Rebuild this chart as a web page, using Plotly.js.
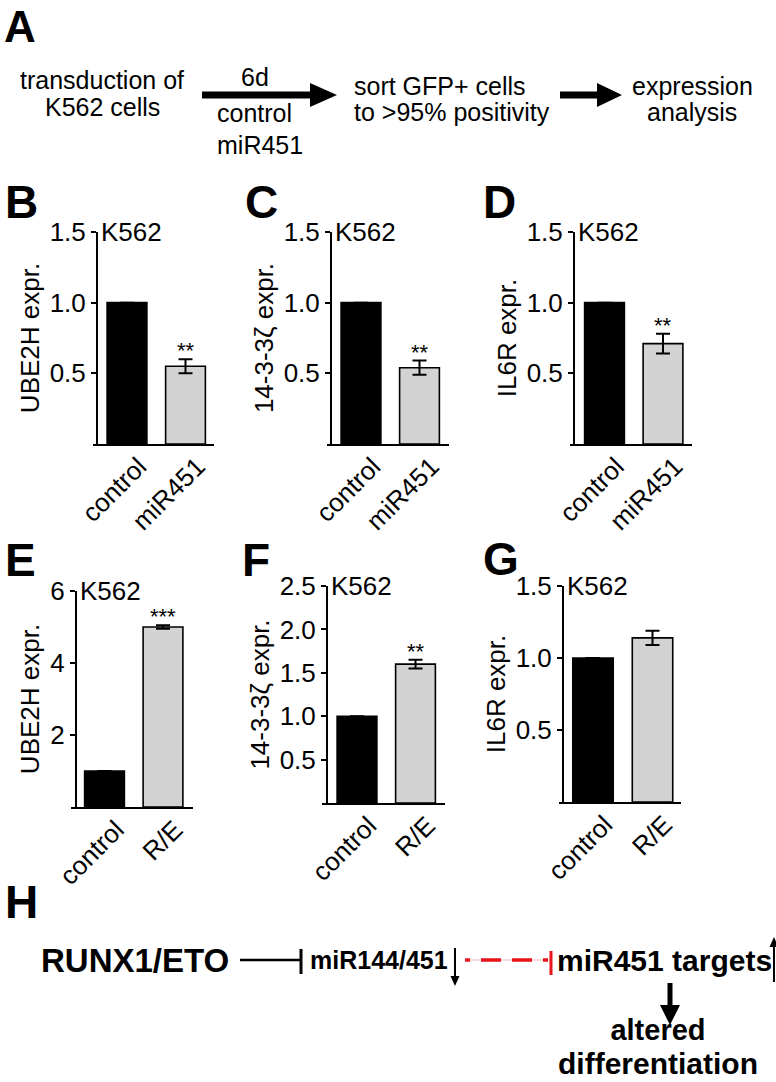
<!DOCTYPE html>
<html>
<head>
<meta charset="utf-8">
<script src="https://cdn.plot.ly/plotly-3.0.1.min.js"></script>
<style>html,body{margin:0;padding:0;background:#fff;}#chart{width:776px;height:1082px;}</style>
</head>
<body>
<div id="chart"></div>
<script>
// ---------- data ----------
const catsMiR = ['control', 'miR451'];
const catsRE = ['control', 'R/E'];
const ube2hMiR = [1.0, 0.55];
const ube2hMiRErr = [0, 0.05];
const ywhazMiR = [1.0, 0.54];
const ywhazMiRErr = [0, 0.05];
const il6rMiR = [1.0, 0.71];
const il6rMiRErr = [0, 0.07];
const ube2hRE = [1.0, 5.0];
const ube2hREErr = [0, 0.05];
const ywhazRE = [1.0, 1.6];
const ywhazREErr = [0, 0.05];
const il6rRE = [1.0, 1.14];
const il6rREErr = [0, 0.05];
const sigUbe2hMiR = ['', '**'];
const sigYwhazMiR = ['', '**'];
const sigIl6rMiR = ['', '**'];
const sigUbe2hRE = ['', '***'];
const sigYwhazRE = ['', '**'];
const sigIl6rRE = ['', ''];
const ticksMiR = [0.5, 1.0, 1.5];
const ticksUbe2hRE = [2, 4, 6];
const ticksYwhazRE = [0.5, 1.0, 1.5, 2.0, 2.5];
const ticksIl6rRE = [0.5, 1.0, 1.5];
const barColors = ['#000000', '#d3d3d3'];

// ---------- layout helpers ----------
const W = 776, H = 1082;
const X = p => p / W;
const Y = p => 1 - p / H;
const FONT = 'Liberation Sans, Arial, Helvetica, sans-serif';
const FS = 26;

const panels = [
  {ax: 97,  x0: 93,  x1: 214, c0: 127,   c1: 185.5, yb: 444, yt: 232, ymax: 1.5, ticks: ticksMiR, fmt: '.1f', cats: catsMiR, vals: ube2hMiR, err: ube2hMiRErr, sig: sigUbe2hMiR, title: 'UBE2H expr.'},
  {ax: 331, x0: 327, x1: 449, c0: 361,   c1: 419.5, yb: 444, yt: 232, ymax: 1.5, ticks: ticksMiR, fmt: '.1f', cats: catsMiR, vals: ywhazMiR, err: ywhazMiRErr, sig: sigYwhazMiR, title: '14-3-3ζ expr.'},
  {ax: 574, x0: 570, x1: 692, c0: 604.5, c1: 663,   yb: 444, yt: 232, ymax: 1.5, ticks: ticksMiR, fmt: '.1f', cats: catsMiR, vals: il6rMiR, err: il6rMiRErr, sig: sigIl6rMiR, title: 'IL6R expr.'},
  {ax: 76,  x0: 71,  x1: 193, c0: 104.5, c1: 163,   yb: 807, yt: 591, ymax: 6,   ticks: ticksUbe2hRE, fmt: 'd', cats: catsRE, vals: ube2hRE, err: ube2hREErr, sig: sigUbe2hRE, title: 'UBE2H expr.'},
  {ax: 327, x0: 322, x1: 445, c0: 357,   c1: 415.5, yb: 803, yt: 586, ymax: 2.5, ticks: ticksYwhazRE, fmt: '.1f', cats: catsRE, vals: ywhazRE, err: ywhazREErr, sig: sigYwhazRE, title: '14-3-3ζ expr.'},
  {ax: 563, x0: 559, x1: 681, c0: 593,   c1: 652.5, yb: 802, yt: 586, ymax: 1.5, ticks: ticksIl6rRE, fmt: '.1f', cats: catsRE, vals: il6rRE, err: il6rREErr, sig: sigIl6rRE, title: 'IL6R expr.'}
];

const data = [];
const layout = {
  width: W, height: H,
  margin: {l: 0, r: 0, t: 0, b: 0},
  paper_bgcolor: '#ffffff',
  plot_bgcolor: 'rgba(0,0,0,0)',
  showlegend: false,
  font: {family: FONT, color: '#000', size: FS},
  annotations: [],
  shapes: []
};

panels.forEach((p, i) => {
  const n = i + 1;
  const xa = 'x' + n, ya = 'y' + n;
  const xk = 'xaxis' + n, yk = 'yaxis' + n;
  const slope = p.c1 - p.c0;
  data.push({
    type: 'bar', x: p.cats, y: p.vals, xaxis: xa, yaxis: ya,
    width: 0.68,
    marker: {color: barColors, line: {color: '#000', width: 1.6}},
    error_y: {type: 'data', array: p.err, visible: true, color: '#000', thickness: 2, width: 7},
    hoverinfo: 'none'
  });
  layout[xk] = {
    domain: [X(p.x0), X(p.x1)],
    range: [(p.x0 - p.c0) / slope, (p.x1 - p.c0) / slope],
    anchor: ya,
    type: 'category',
    showline: true, linewidth: 2, linecolor: '#000',
    ticks: '', showgrid: false, zeroline: false,
    tickangle: -45,
    ticklabelshift: 12,
    ticklabelstandoff: -5,
    tickfont: {size: FS, family: FONT, color: '#000'},
    automargin: false
  };
  layout[yk] = {
    domain: [Y(p.yb), Y(p.yt)],
    range: [0, p.ymax],
    anchor: 'free', position: X(p.ax),
    showline: true, linewidth: 2, linecolor: '#000',
    ticks: 'outside', ticklen: 5, tickwidth: 2, tickcolor: '#000',
    tickvals: p.ticks, tickformat: p.fmt,
    showgrid: false, zeroline: false,
    tickfont: {size: FS, family: FONT, color: '#000'},
    title: {text: p.title, font: {size: FS, family: FONT, color: '#000'}, standoff: 2},
    automargin: false
  };
  // K562 label
  layout.annotations.push({
    xref: 'paper', yref: 'paper', x: X(p.ax + 2), y: Y(p.yt),
    xanchor: 'left', yanchor: 'middle', showarrow: false,
    text: 'K562', font: {size: FS, family: FONT, color: '#000'}
  });
  // significance stars
  p.cats.forEach((c, j) => {
    if (!p.sig[j]) return;
    layout.annotations.push({
      xref: xa, yref: ya, x: c, y: p.vals[j] + p.err[j],
      xanchor: 'center', yanchor: 'bottom', yshift: -6, showarrow: false,
      text: p.sig[j], font: {size: 22, family: FONT, color: '#000'}
    });
  });
});

// ---------- panel letters ----------
layout.annotations.push({
  xref: 'paper', yref: 'paper', x: X(20), y: 1, xanchor: 'center', yanchor: 'top',
  showarrow: false, text: '<b>A</b>', font: {size: 44, family: FONT, color: '#000'}
});
const letters = [['B', 21, 202], ['C', 261, 202], ['D', 499, 202],
                 ['E', 20, 560], ['F', 256, 560], ['G', 501, 559], ['H', 21, 902]];
letters.forEach(l => layout.annotations.push({
  xref: 'paper', yref: 'paper', x: X(l[1]), y: Y(l[2]), xanchor: 'center', yanchor: 'middle',
  showarrow: false, text: '<b>' + l[0] + '</b>', font: {size: 46, family: FONT, color: '#000'}
}));

function txt(t, x, y, size, anchor, bold) {
  layout.annotations.push({
    xref: 'paper', yref: 'paper', x: X(x), y: Y(y), xanchor: anchor || 'center', yanchor: 'middle',
    showarrow: false, text: bold ? '<b>' + t + '</b>' : t,
    font: {size: size, family: FONT, color: '#000'}
  });
}
function poly(pts, color) {
  const d = pts.map((pt, k) => (k ? 'L' : 'M') + X(pt[0]).toFixed(5) + ',' + Y(pt[1]).toFixed(5)).join(' ') + ' Z';
  layout.shapes.push({type: 'path', xref: 'paper', yref: 'paper', path: d, fillcolor: color, line: {width: 0}});
}
function seg(x0, y0, x1, y1, color, width, dash) {
  layout.shapes.push({type: 'line', xref: 'paper', yref: 'paper', x0: X(x0), y0: Y(y0), x1: X(x1), y1: Y(y1),
    line: {color: color, width: width, dash: dash || 'solid'}});
}
function hArrow(xs, xe, y, t, hl, hw) {
  poly([[xs, y - t / 2], [xe - hl, y - t / 2], [xe - hl, y - hw / 2], [xe, y], [xe - hl, y + hw / 2], [xe - hl, y + t / 2], [xs, y + t / 2]], '#000');
}
function vArrow(x, ys, ye, t, hl, hw) {
  const s = ye > ys ? 1 : -1;
  poly([[x - t / 2, ys], [x - t / 2, ye - s * hl], [x - hw / 2, ye - s * hl], [x, ye], [x + hw / 2, ye - s * hl], [x + t / 2, ye - s * hl], [x + t / 2, ys]], '#000');
}

// ---------- panel A ----------
txt('transduction of', 102, 80, 25);
txt('K562 cells', 102, 107, 25);
hArrow(202, 337, 95, 7, 27, 24);
txt('6d', 255, 77, 25);
txt('control', 215, 113, 25, 'left');
txt('miR451', 215, 145, 25, 'left');
txt('sort GFP+ cells', 352, 86, 25, 'left');
txt('to >95% positivity', 352, 112, 25, 'left');
hArrow(560, 622, 95, 7, 25, 24);
txt('expression', 692, 86, 25);
txt('analysis', 692, 112, 25);

// ---------- panel H ----------
txt('RUNX1/ETO', 135, 960, 33, 'center', true);
seg(240, 960, 300, 960, '#000', 2.5);
seg(301, 949, 301, 974, '#000', 3);
txt('miR144/451', 308, 960, 25, 'left', true);
vArrow(455, 948, 986, 2, 10, 9);
seg(465, 960, 551, 960, '#f3b5b5', 1);
seg(465, 960, 548, 960, '#e8141c', 3.5, '5px,11px,20px,11px,20px,11px');
seg(551, 951, 551, 975, '#e8141c', 3);
txt('miR451 targets', 555, 960, 30, 'left', true);
vArrow(774, 982, 937, 2, 10, 9);
vArrow(670, 983, 1025, 5, 20, 20);
layout.annotations.push({
  xref: 'paper', yref: 'paper', x: X(658), y: 0, xanchor: 'center', yanchor: 'bottom',
  showarrow: false, align: 'center',
  text: '<b><span style="font-size:29px">altered</span><br><span style="font-size:30px">differentiation</span></b>',
  font: {size: 26.5, family: FONT, color: '#000'}
});

Plotly.newPlot('chart', data, layout, {staticPlot: true, displayModeBar: false});
</script>
</body>
</html>
